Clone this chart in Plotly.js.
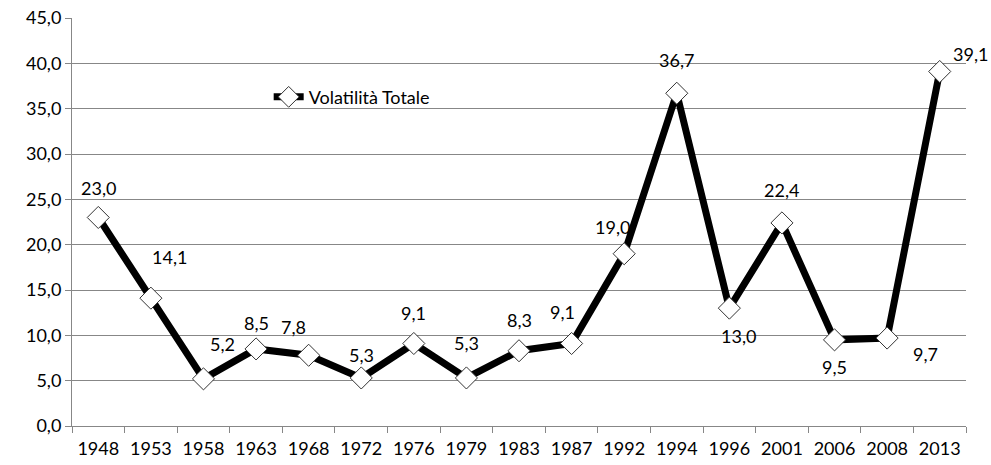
<!DOCTYPE html>
<html><head><meta charset="utf-8">
<script src="https://cdn.plot.ly/plotly-3.0.1.min.js"></script>
<style>body{margin:0;background:#fff}#c{width:991px;height:465px}</style>
</head><body><div id="c"></div>
<script>
const years = ["1948","1953","1958","1963","1968","1972","1976","1979","1983","1987","1992","1994","1996","2001","2006","2008","2013"];
const volatility = [23.0,14.1,5.2,8.5,7.8,5.3,9.1,5.3,8.3,9.1,19.0,36.7,13.0,22.4,9.5,9.7,39.1];
const seriesName = "Volatilità Totale";

// label offsets (style only): [dx, dy] in pixels, dy positive = up
const labelShift = [[0,29],[19,41],[19,35],[0,26],[-15,28],[0,23],[0,30],[0,35],[0,31],[-9,31],[-12,27],[0,33],[9,-28],[0,33],[0,-27],[38,-16],[31,17]];

const fmt = v => v.toFixed(1).replace('.', ',');
const FONT = "Lato, 'Open Sans', sans-serif";

const annotations = years.map((y,i)=>({
  x: i, y: volatility[i], xref:'x', yref:'y', text: fmt(volatility[i]),
  showarrow:false, xshift: labelShift[i][0], yshift: labelShift[i][1],
  font:{family:FONT,size:18,color:'#000'}
}));

const trace = {
  x: years, y: volatility, type:'scatter', mode:'lines+markers', name: seriesName,
  line:{color:'#000', width:7},
  marker:{symbol:'diamond', size:17, color:'#fff', line:{color:'#333', width:1}}
};

const layout = {
  width:991, height:465,
  margin:{l:72, r:25, t:18, b:39},
  paper_bgcolor:'#fff', plot_bgcolor:'#fff',
  separators:',.',
  font:{family:FONT, size:18, color:'#000'},
  showlegend:true,
  legend:{x:0.22, y:0.806, xanchor:'left', yanchor:'middle', bgcolor:'rgba(0,0,0,0)', font:{family:FONT,size:18,color:'#000'}},
  xaxis:{type:'category', range:[-0.5, years.length-0.5], autorange:false, showline:true, linecolor:'#878787', linewidth:1, ticks:'outside', tickson:'boundaries', ticklen:6, tickcolor:'#878787', showgrid:false, zeroline:false, tickangle:0, ticklabelstandoff:6, tickfont:{family:FONT,size:18}},
  yaxis:{range:[0,45], autorange:false, dtick:5, tickformat:'.1f', showline:true, linecolor:'#878787', linewidth:1, ticks:'outside', ticklen:6, tickcolor:'#878787', showgrid:true, gridcolor:'#878787', gridwidth:1, zeroline:false, tickfont:{family:FONT,size:18}},
  annotations: annotations
};
Plotly.newPlot('c',[trace],layout,{staticPlot:true});
</script></body></html>
